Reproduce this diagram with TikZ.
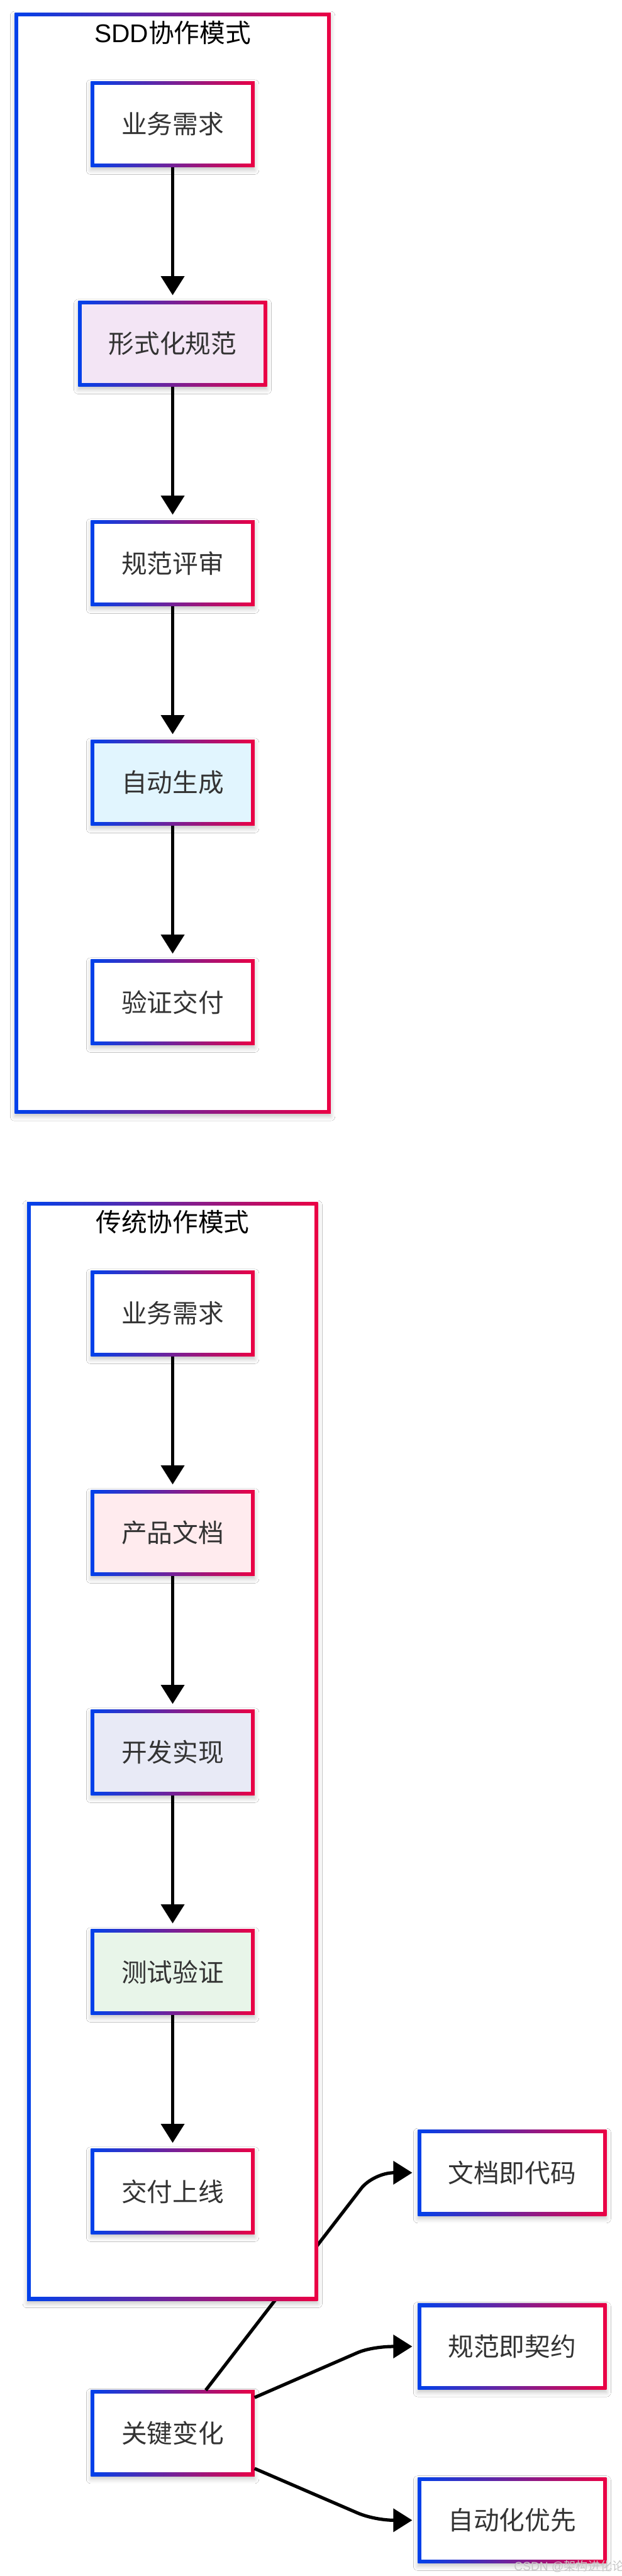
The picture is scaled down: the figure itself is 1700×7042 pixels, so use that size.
\documentclass[tikz,border=0pt]{standalone}
\usepackage{fontspec}
\setmainfont{Liberation Sans}
\newfontfamily\cjk{Noto Sans CJK SC}
\usetikzlibrary{arrows.meta,shadows.blur}
\definecolor{gblue}{RGB}{0,65,235}
\definecolor{gred}{RGB}{235,0,68}
\definecolor{txt}{HTML}{333333}
\definecolor{fpurple}{HTML}{F3E5F5}
\definecolor{fcyan}{HTML}{E1F5FE}
\definecolor{fpink}{HTML}{FFEBEE}
\definecolor{findigo}{HTML}{E8EAF6}
\definecolor{fgreen}{HTML}{E8F5E9}
\begin{document}
\begin{tikzpicture}[x=0.5pt,y=-0.5pt,
  gbox/.style 2 args={rectangle, minimum width=#1, minimum height=117.5pt,
    inner sep=0pt, outer sep=0pt, left color=gblue, right color=gred,
    path picture={\fill[#2] ([xshift=5pt,yshift=-5pt]path picture bounding box.north west)
      rectangle ([xshift=-5pt,yshift=5pt]path picture bounding box.south east);},
    blur shadow={shadow xshift=0pt, shadow yshift=-4pt, shadow blur radius=6pt, shadow opacity=22},
    font=\cjk\fontsize{35pt}{42pt}\selectfont, text=txt},
  nfour/.style={gbox={224pt}{#1}},
  nfive/.style={gbox={258pt}{#1}},
  cluster/.style 2 args={rectangle, minimum width=#1, minimum height=#2,
    inner sep=0pt, outer sep=0pt, left color=gblue, right color=gred,
    path picture={\fill[white] ([xshift=5pt,yshift=-5pt]path picture bounding box.north west)
      rectangle ([xshift=-5pt,yshift=5pt]path picture bounding box.south east);},
    blur shadow={shadow xshift=0pt, shadow yshift=-4pt, shadow blur radius=6pt, shadow opacity=22}},
  ttl/.style={font=\fontsize{35pt}{42pt}\selectfont, text=black, inner sep=0pt},
  arr/.style={line width=4.5pt, -{Triangle[length=26pt,width=31.5pt]}, shorten >=7.5pt},
  wm/.style={font=\fontsize{16.5pt}{20pt}\selectfont, text=black!22, inner sep=0pt, anchor=base west}
]
\fill[white] (0,0) rectangle (1700,7042);
\useasboundingbox (0,0) rectangle (1700,7042);

% nodes outside the clusters
\node[nfour=white] (kc) at (472,6651.5) {关键变化};
\node[nfive=white] (doc) at (1400,5939.5) {文档即代码};
\node[nfive=white] (spec) at (1400,6414.5) {规范即契约};
\node[nfive=white] (auto) at (1400,6889.5) {自动化优先};

% this connector passes under the traditional cluster
\draw[arr] (kc) -- (987,5983) .. controls (1005,5959) and (1045,5939.5) .. (doc.west);

% SDD cluster
\node[cluster={432pt}{1504.5pt}] (sdd) at (472,1539.5) {};
\node[ttl] (sddt) at (472,90) {SDD{\cjk 协作模式}};
\node[nfour=white] (s1) at (472,339.5) {业务需求};
\node[nfive=fpurple] (s2) at (472,939.5) {形式化规范};
\node[nfour=white] (s3) at (472,1539.5) {规范评审};
\node[nfour=fcyan] (s4) at (472,2139.5) {自动生成};
\node[nfour=white] (s5) at (472,2739.5) {验证交付};
\draw[arr] (s1) -- (s2);
\draw[arr] (s2) -- (s3);
\draw[arr] (s3) -- (s4);
\draw[arr] (s4) -- (s5);

% traditional cluster
\node[cluster={397.5pt}{1501.5pt}] (trad) at (471.5,4787.5) {};
\node[ttl] (tradt) at (472,3340) {\cjk 传统协作模式};
\node[nfour=white] (t1) at (472,3590.5) {业务需求};
\node[nfour=fpink] (t2) at (472,4190.5) {产品文档};
\node[nfour=findigo] (t3) at (472,4790.5) {开发实现};
\node[nfour=fgreen] (t4) at (472,5390.5) {测试验证};
\node[nfour=white] (t5) at (472,5990.5) {交付上线};
\draw[arr] (t1) -- (t2);
\draw[arr] (t2) -- (t3);
\draw[arr] (t3) -- (t4);
\draw[arr] (t4) -- (t5);

% key changes
\draw[arr] (kc) -- (976,6432) .. controls (1003,6420) and (1045,6414.5) .. (spec.west);
\draw[arr] (kc) -- (976,6869) .. controls (1003,6881) and (1045,6889.5) .. (auto.west);

% watermark
\node[wm] (wmark) at (1405,7027) {CSDN @{\cjk 架构进化论}};
\end{tikzpicture}
\end{document}
